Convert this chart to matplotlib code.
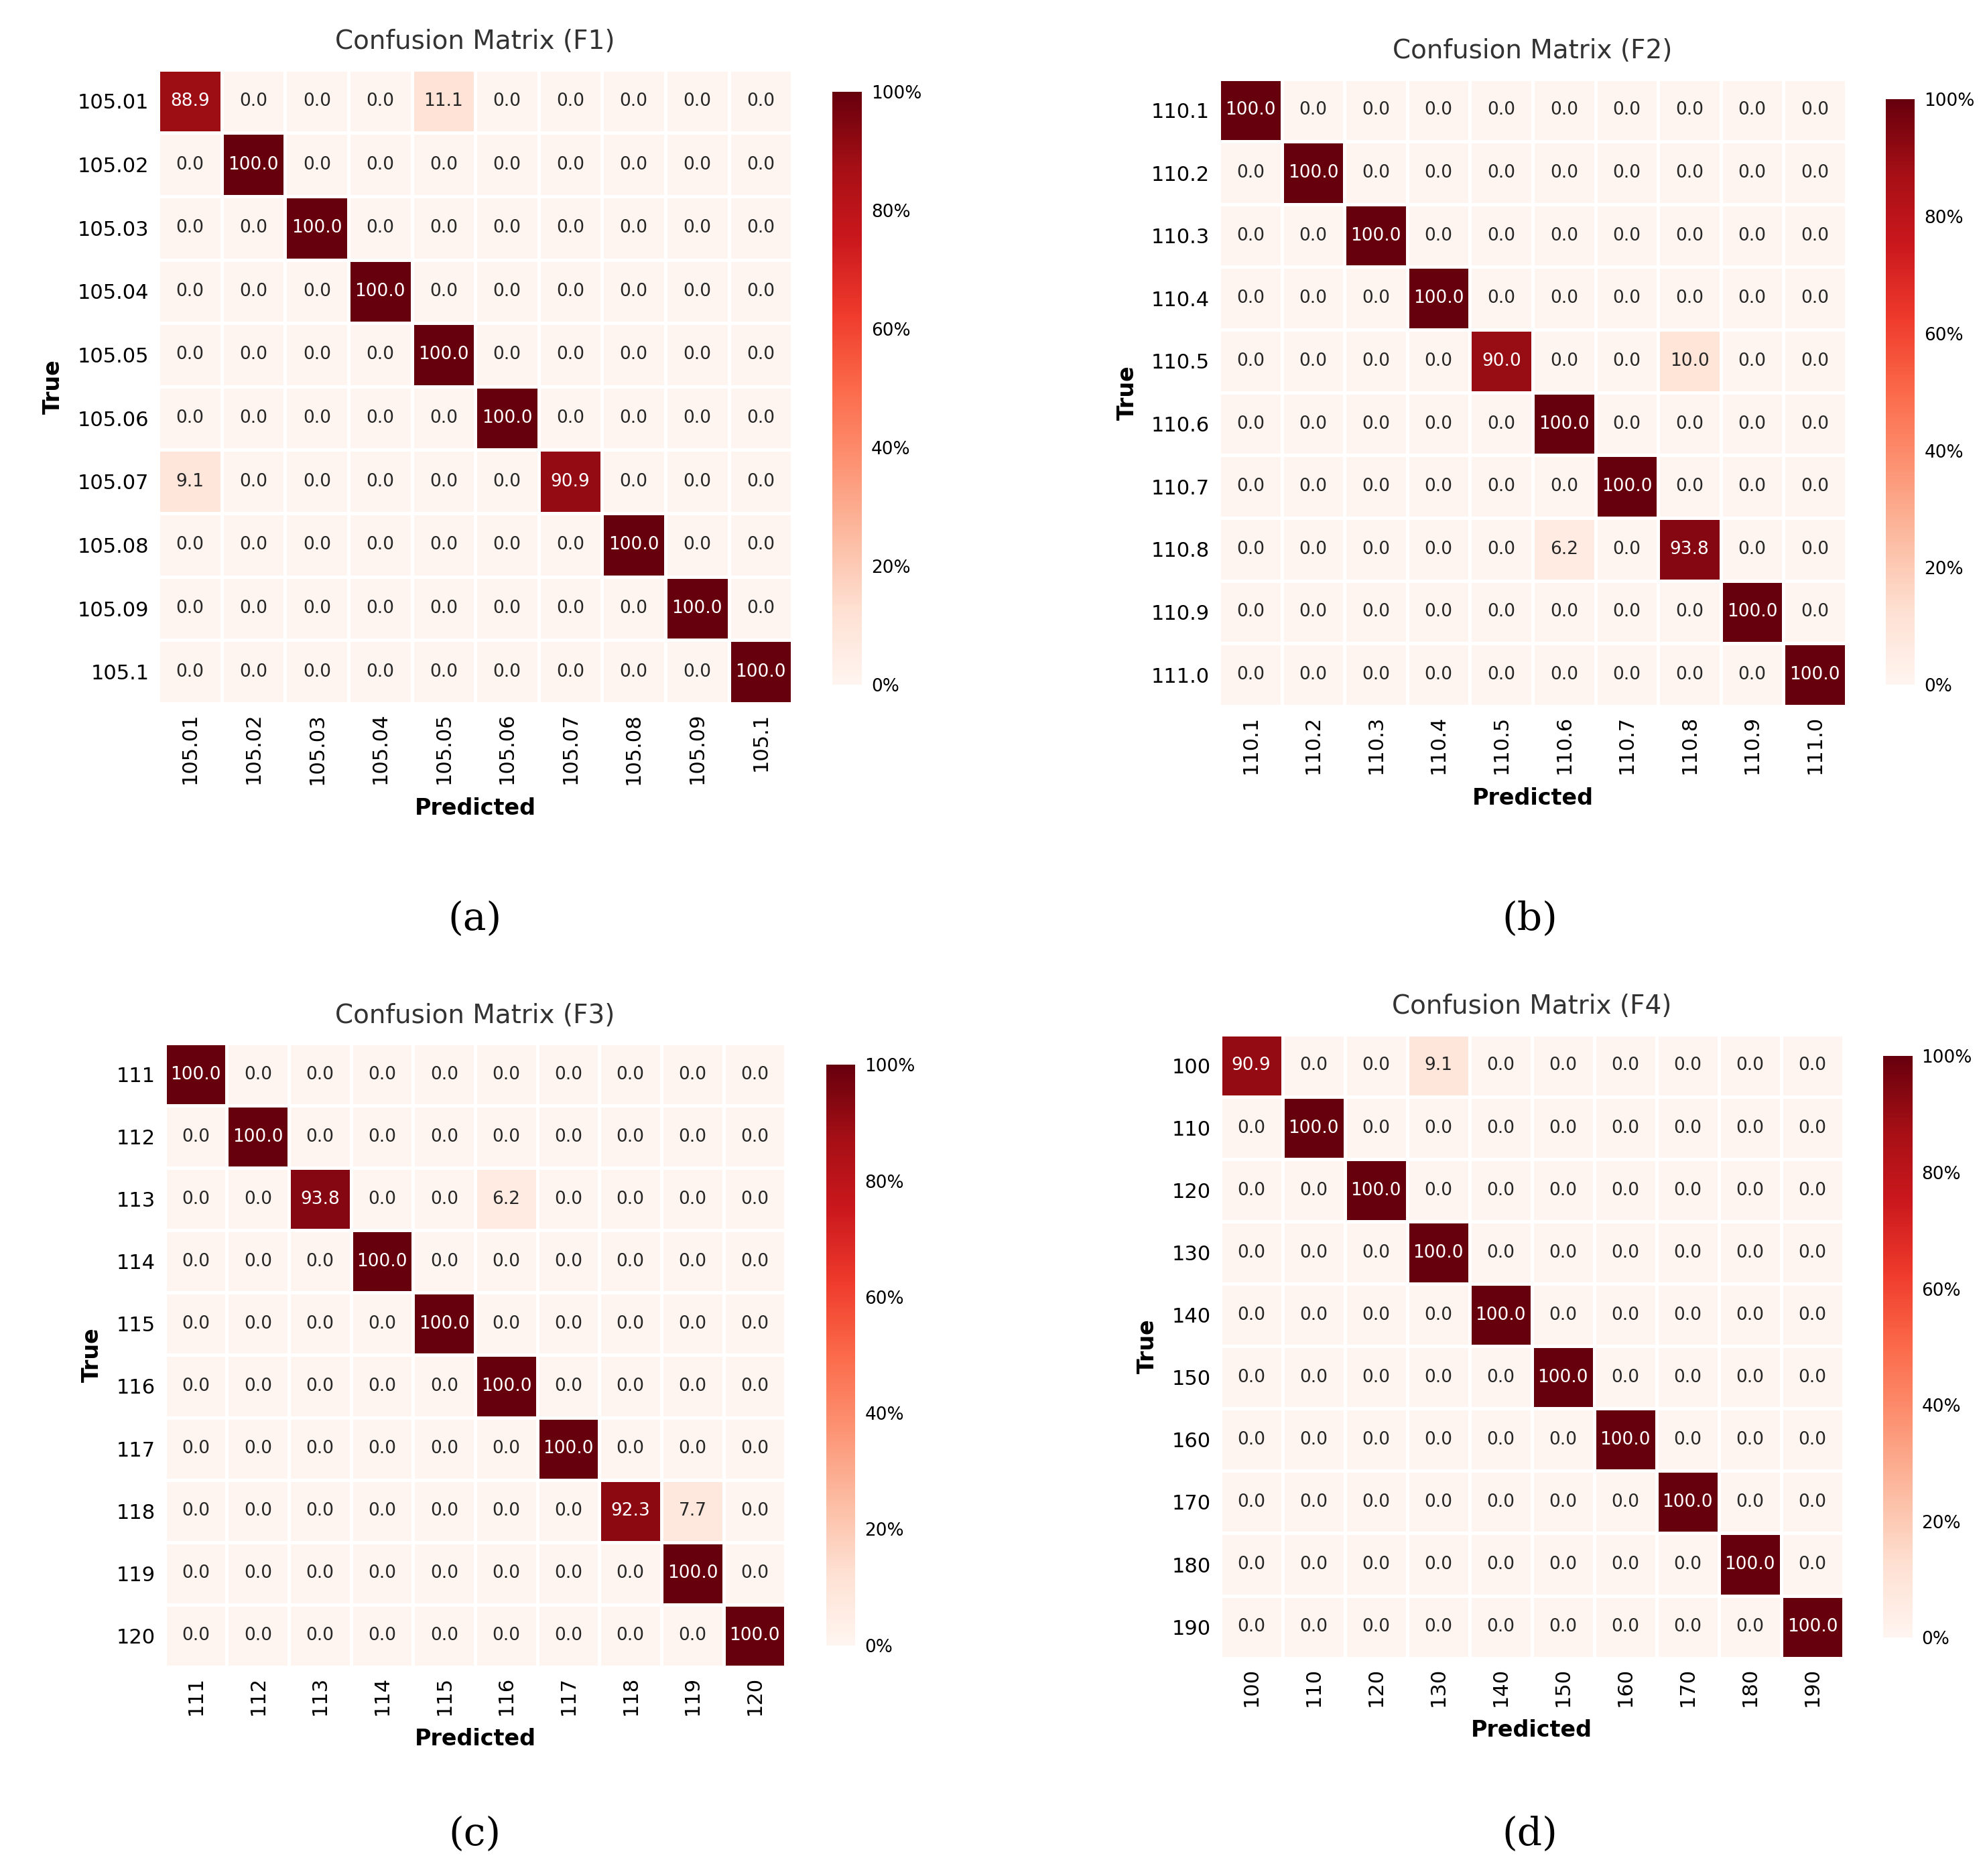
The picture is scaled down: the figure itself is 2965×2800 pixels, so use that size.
import numpy as np
import matplotlib
matplotlib.use("Agg")
import matplotlib.pyplot as plt
from matplotlib.ticker import FuncFormatter

# class labels
labels_f1 = ["105.01", "105.02", "105.03", "105.04", "105.05", "105.06", "105.07", "105.08", "105.09", "105.1"]
labels_f2 = ["110.1", "110.2", "110.3", "110.4", "110.5", "110.6", "110.7", "110.8", "110.9", "111.0"]
labels_f3 = ["111", "112", "113", "114", "115", "116", "117", "118", "119", "120"]
labels_f4 = ["100", "110", "120", "130", "140", "150", "160", "170", "180", "190"]

# diagonal percentages
diag_f1 = [88.9, 100.0, 100.0, 100.0, 100.0, 100.0, 90.9, 100.0, 100.0, 100.0]
diag_f2 = [100.0, 100.0, 100.0, 100.0, 90.0, 100.0, 100.0, 93.8, 100.0, 100.0]
diag_f3 = [100.0, 100.0, 93.8, 100.0, 100.0, 100.0, 100.0, 92.3, 100.0, 100.0]
diag_f4 = [90.9, 100.0, 100.0, 100.0, 100.0, 100.0, 100.0, 100.0, 100.0, 100.0]

# off-diagonal entries (row, col, value)
off_f1 = [(0, 4, 11.1), (6, 0, 9.1)]
off_f2 = [(4, 7, 10.0), (7, 5, 6.2)]
off_f3 = [(2, 5, 6.2), (7, 8, 7.7)]
off_f4 = [(0, 3, 9.1)]

titles = ["Confusion Matrix (F1)", "Confusion Matrix (F2)", "Confusion Matrix (F3)", "Confusion Matrix (F4)"]
captions = ["(a)", "(b)", "(c)", "(d)"]


def build(diag, off):
    m = np.diag(np.array(diag, dtype=float))
    for r, c, v in off:
        m[r, c] = v
    return m


fig = plt.figure(figsize=(29.65, 28), dpi=100)
cmap = plt.get_cmap("Reds")

panels = [
    (labels_f1, build(diag_f1, off_f1), [0.0797, 0.625, 0.319, 0.338], [0.419, 0.635, 0.0147, 0.316], (0.239, 0.51)),
    (labels_f2, build(diag_f2, off_f2), [0.6135, 0.6236, 0.3157, 0.3344], [0.949, 0.635, 0.0147, 0.312], (0.77, 0.51)),
    (labels_f3, build(diag_f3, off_f3), [0.0829, 0.1115, 0.3125, 0.3324], [0.4158, 0.123, 0.0147, 0.3094], (0.239, 0.022)),
    (labels_f4, build(diag_f4, off_f4), [0.614, 0.1162, 0.3138, 0.3324], [0.9477, 0.127, 0.0147, 0.31], (0.77, 0.022)),
]

for i, (labs, mat, axpos, cbpos, cappos) in enumerate(panels):
    ax = fig.add_axes(axpos)
    n = len(labs)
    mesh = ax.pcolormesh(np.arange(n + 1), np.arange(n + 1), mat, cmap=cmap, vmin=0, vmax=100,
                         edgecolor="white", linewidth=2.5)
    ax.set_xlim(0, n)
    ax.set_ylim(n, 0)
    for r in range(n):
        for c in range(n):
            v = mat[r, c]
            ax.text(c + 0.5, r + 0.5, f"{v:.1f}", ha="center", va="center", fontsize=19,
                    color="white" if v > 50 else "#262626")
    ax.set_xticks(np.arange(n) + 0.5)
    ax.set_xticklabels(labs, rotation=90, fontsize=22)
    ax.set_yticks(np.arange(n) + 0.5)
    ax.set_yticklabels(labs, fontsize=22)
    ax.tick_params(length=0, pad=10)
    for s in ax.spines.values():
        s.set_visible(False)
    ax.set_xlabel("Predicted", fontsize=24, fontweight="bold", labelpad=14)
    ax.set_ylabel("True", fontsize=24, fontweight="bold", labelpad=14)
    ax.set_title(titles[i], fontsize=28, pad=22, color="#333333")

    cax = fig.add_axes(cbpos)
    cb = fig.colorbar(mesh, cax=cax, ticks=[0, 20, 40, 60, 80, 100],
                      format=FuncFormatter(lambda x, p: f"{int(x)}%"))
    cb.outline.set_visible(False)
    cax.tick_params(labelsize=19, length=0, pad=10)

    fig.text(cappos[0], cappos[1], captions[i], ha="center", va="center", fontsize=42,
             family="DejaVu Serif")

fig.savefig("out.png", dpi=100, facecolor="white")
